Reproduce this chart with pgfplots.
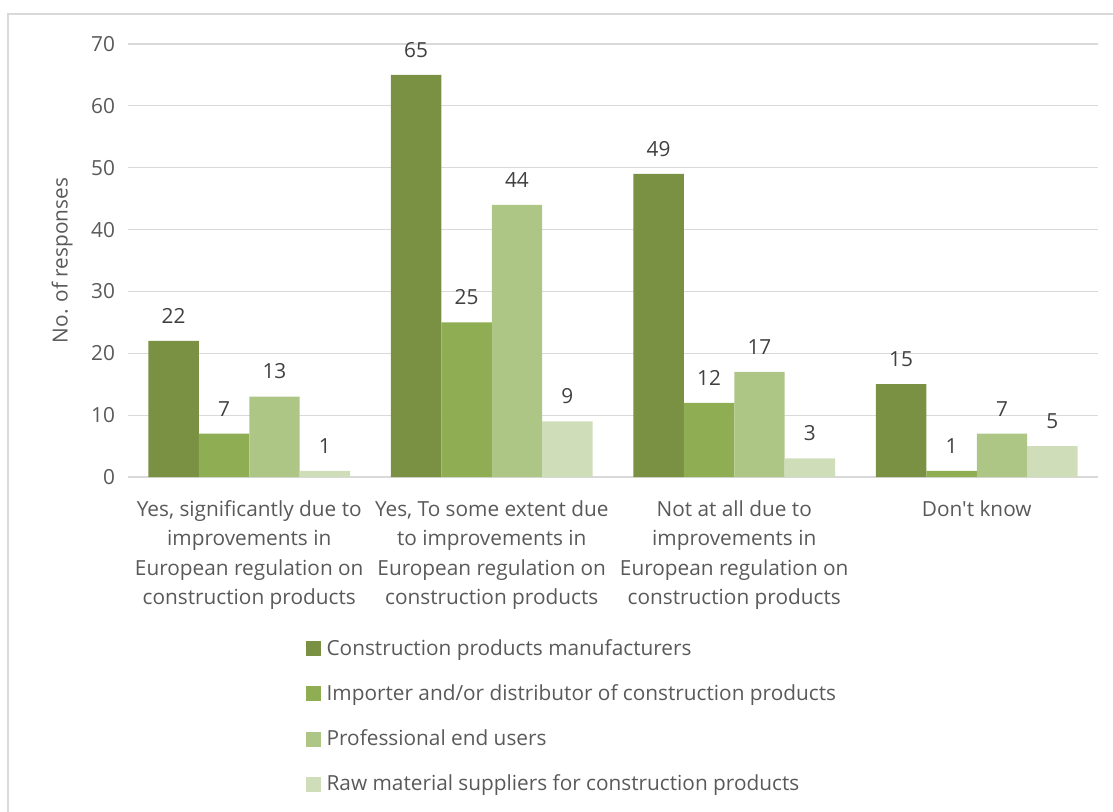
\documentclass[border=0pt]{standalone}
\usepackage{pgfplots}
\pgfplotsset{compat=1.18}
\usepackage{fontspec}
\setmainfont{Open Sans}
\newfontfamily\nomap{Open Sans}
\definecolor{c1}{HTML}{7A9143}
\definecolor{c2}{HTML}{8FAD52}
\definecolor{c3}{HTML}{AEC685}
\definecolor{c4}{HTML}{D0DDB9}
\definecolor{txt}{HTML}{595959}
\definecolor{lbl}{HTML}{404040}
\definecolor{gridc}{HTML}{D9D9D9}
\begin{document}
\begin{tikzpicture}
\path[use as bounding box] (0,0) rectangle (556.5pt,405.5pt);
\draw[gridc, line width=0.6pt] (4pt,-10pt) rectangle (600pt,398.5pt);
\begin{axis}[
  at={(64pt,167pt)}, anchor=south west,
  scale only axis, width=485pt, height=216.5pt,
  ybar=0pt, bar width=0.208,
  xmin=-0.5, xmax=3.5, ymin=0, ymax=70,
  ytick={0,10,...,70},
  xtick={0,1,2,3},
  /pgf/number format/assume math mode=true,
  xticklabels={{Yes, significantly due to\\improvements in\\European regulation on\\construction products},
               {Yes, To some extent due\\to improvements in\\European regulation on\\construction products},
               {Not at all due to\\improvements in\\European regulation on\\construction products},
               {{\nomap Don't know}}},
  xticklabel style={align=center, font=\fontsize{10.4}{14.7}\selectfont, text=txt, anchor=north, yshift=-8.3pt},
  yticklabel style={font=\fontsize{10.4}{12}\selectfont, text=txt, xshift=-3pt},
  ylabel={No. of responses},
  every axis y label/.style={at={(rel axis cs:-0.068,0.5)}, rotate=90, anchor=center, font=\fontsize{10.4}{12}\selectfont, text=txt},
  ymajorgrids, grid style={gridc, line width=0.6pt},
  axis line style={draw=none},
  major tick length=0pt,
  nodes near coords,
  every node near coord/.append style={font=\fontsize{10.4}{12}\selectfont, text=lbl, anchor=south, yshift=5.3pt},
  legend cell align=left,
  legend style={draw=none, fill=none, at={(0.1765,-0.355)}, anchor=north west,
    font=\fontsize{10.4}{12}\selectfont, text=txt, row sep=9.2pt,
    /tikz/every odd column/.append style={column sep=1pt}},
  legend image code/.code={\fill[#1] (0pt,-3.75pt) rectangle (7.5pt,3.75pt);},
]
\addplot[fill=c1, draw=none] coordinates {(0,22) (1,65) (2,49) (3,15)};
\addplot[fill=c2, draw=none] coordinates {(0,7) (1,25) (2,12) (3,1)};
\addplot[fill=c3, draw=none] coordinates {(0,13) (1,44) (2,17) (3,7)};
\addplot[fill=c4, draw=none] coordinates {(0,1) (1,9) (2,3) (3,5)};
\legend{Construction products manufacturers, Importer and/or distributor of construction products, Professional end users, Raw material suppliers for construction products}
\end{axis}
\end{tikzpicture}
\end{document}
